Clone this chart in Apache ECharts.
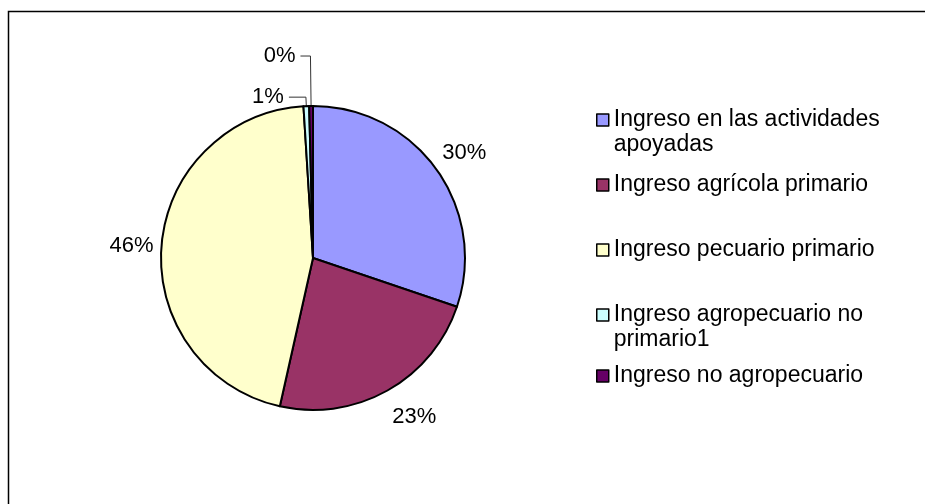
<!DOCTYPE html>
<html>
<head>
<meta charset="utf-8">
<script src="https://cdn.jsdelivr.net/npm/echarts@6/dist/echarts.min.js"></script>
<style>
html,body{margin:0;padding:0;background:#fff;}
#c{width:925px;height:504px;}
</style>
</head>
<body>
<div id="c"></div>
<script>
// ---- data ----
var categories = [
  'Ingreso en las actividades apoyadas',
  'Ingreso agrícola primario',
  'Ingreso pecuario primario',
  'Ingreso agropecuario no primario1',
  'Ingreso no agropecuario'
];
var legendLabels = [
  'Ingreso en las actividades\napoyadas',
  'Ingreso agrícola primario',
  'Ingreso pecuario primario',
  'Ingreso agropecuario no\nprimario1',
  'Ingreso no agropecuario'
];
var values = [30.2, 23.3, 45.5, 0.6, 0.4];
var colors = ['#9999FF', '#993366', '#FFFFCC', '#CCFFFF', '#660066'];

// ---- style/layout ----
var FONT = '"Liberation Sans", Arial, sans-serif';
var FS = 22;
var LFS = 23;
var LH = 25;
var labelLens = [[28, -22, false], [30, -15, false], [3, 0, false], [9, 17, true], [50, 10, true]];
var legendTops = [120, 185, 250, 315, 376];

var chart = echarts.init(document.getElementById('c'), null, {renderer: 'canvas'});

var pieData = categories.map(function (name, i) {
  return {
    name: name,
    value: values[i],
    itemStyle: {color: colors[i]},
    labelLine: {
      show: labelLens[i][2],
      length: labelLens[i][0],
      length2: labelLens[i][1]
    }
  };
});

var legends = categories.map(function (name, i) {
  var twoLine = legendLabels[i].indexOf('\n') >= 0;
  return {
    orient: 'vertical',
    left: 596,
    padding: 0,
    top: legendTops[i] - (twoLine ? LH * 1.5 : LH / 2),
    itemWidth: 12,
    itemHeight: 12,
    icon: 'rect',
    selectedMode: false,
    data: [name],
    itemStyle: {borderColor: '#000', borderWidth: 1.5},
    formatter: function () { return twoLine ? '\n' + legendLabels[i] : legendLabels[i]; },
    textStyle: {
      fontFamily: FONT,
      fontSize: LFS,
      lineHeight: LH,
      color: '#000'
    }
  };
});

chart.setOption({
  animation: false,
  backgroundColor: '#fff',
  graphic: [{
    type: 'rect',
    shape: {x: 8.5, y: 11.5, width: 1000, height: 600},
    style: {fill: 'none', stroke: '#000', lineWidth: 1.5},
    silent: true
  }],
  legend: legends,
  series: [{
    type: 'pie',
    center: [313, 258],
    radius: 152,
    startAngle: 90,
    clockwise: true,
    avoidLabelOverlap: false,
    itemStyle: {borderColor: '#000', borderWidth: 2},
    emphasis: {disabled: true},
    label: {
      show: true,
      position: 'outside',
      fontFamily: FONT,
      fontSize: FS,
      color: '#000',
      distanceToLabelLine: 5,
      formatter: function (p) { return Math.round(p.value) + '%'; }
    },
    labelLine: {
      lineStyle: {color: '#333', width: 1},
      smooth: false
    },
    data: pieData
  }]
});
</script>
</body>
</html>
